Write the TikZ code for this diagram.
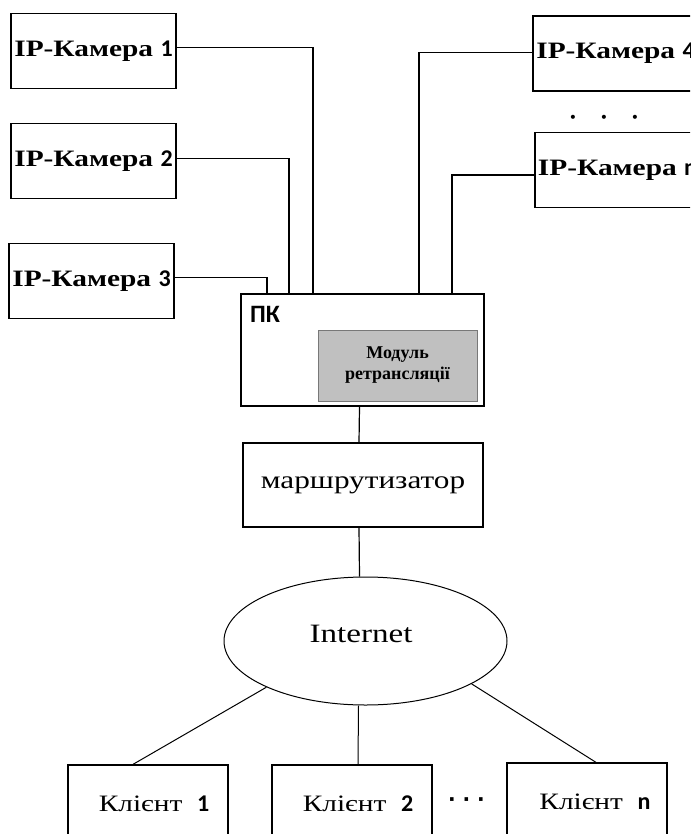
\documentclass[tikz,border=0pt]{standalone}
\usepackage{fontspec}
\usetikzlibrary{shapes.geometric}
\setmainfont{Liberation Serif}
\newfontfamily\gar[FakeStretch=1.25]{Liberation Serif}
\newfontfamily\numfont{Carlito}
\newfontfamily\symfont{DejaVu Sans}
\newcommand\nm[1]{{\numfont\bfseries\fontsize{24}{28}\selectfont #1}}
\definecolor{modfill}{RGB}{192,192,192}
\definecolor{modline}{RGB}{120,120,120}
\tikzset{
  box/.style={draw, line width=1.3pt, inner sep=0pt, align=center},
  cam/.style={box, minimum width=165pt, minimum height=75pt, font=\gar\bfseries\fontsize{23.5}{27}\selectfont},
  wire/.style={line width=1.2pt},
  client/.style={box, minimum width=160pt, minimum height=78pt, font=\gar\fontsize{23.5}{27}\selectfont},
}
\begin{document}
\begin{tikzpicture}[x=1pt,y=-1pt]
\useasboundingbox (0,0) rectangle (690,834);
\clip (0,0) rectangle (690,834);
% cameras
\node[cam] (c1) at (93.5,50.8) {IP-Камера \nm{1}};
\node[cam] (c2) at (93.5,160.8) {IP-Камера \nm{2}};
\node[cam] (c3) at (91.5,280.7) {IP-Камера \nm{3}};
\node[cam] (c4) at (615.5,53.5) {IP-Камера \nm{4}};
\node[cam] (cn) at (617.5,170) {IP-Камера \nm{n}};
\node[anchor=base, inner sep=0pt, font=\symfont\fontsize{14}{16}\selectfont] (dots1) at (604,123) {\makebox[31pt]{•}\makebox[31pt]{•}\makebox[31pt]{•}};
% PC
\node[box, minimum width=243pt, minimum height=112pt] (pc) at (362.5,350) {};
\node[anchor=west, inner sep=0pt, font=\numfont\bfseries\fontsize{25}{29}\selectfont] (pcl) at (250,314) {ПК};
\node[draw=modline, fill=modfill, line width=1pt, minimum width=159pt, minimum height=71pt, align=center, inner sep=0pt, font=\bfseries\fontsize{18}{21}\selectfont] (mod) at (397.5,365.5) {Модуль\\ретрансляції};
% router
\node[box, minimum width=240pt, minimum height=84pt, font=\gar\fontsize{25}{29}\selectfont] (rt) at (363,485) {маршрутизатор};
% internet
\node[ellipse, draw, line width=1pt, minimum width=283pt, minimum height=128pt, inner sep=0pt] (inet) at (365.5,641) {};
\node[font=\gar\fontsize{26.5}{30}\selectfont, inner sep=0pt] (inetl) at (361,634) {Internet};
% clients
\node[client] (k1) at (148,804) {\hspace*{12pt}Клієнт\ \ \nm{1}};
\node[client] (k2) at (352,804) {\hspace*{12pt}Клієнт\ \ \nm{2}};
\node[client] (kn) at (587,802) {\hspace*{16pt}Клієнт\ \ \nm{n}};
\node[anchor=base, inner sep=0pt, font=\symfont\bfseries\fontsize{20}{24}\selectfont] (dots2) at (466.5,806) {\makebox[14.5pt]{·}\makebox[14.5pt]{·}\makebox[14.5pt]{·}};
% wires cameras -> PC
\coordinate (p1) at (313,294);
\coordinate (p2) at (289,294);
\coordinate (p3) at (267,294);
\coordinate (p4) at (419,294);
\coordinate (p5) at (452,294);
\draw[wire] ([yshift=3pt]c1.east) -| (p1);
\draw[wire] ([yshift=2pt]c2.east) -| (p2);
\draw[wire] ([yshift=3pt]c3.east) -| (p3);
\draw[wire] ([yshift=1pt]c4.west) -| (p4);
\draw[wire] ([yshift=-5pt]cn.west) -| (p5);
% PC -> router -> internet
\draw[wire] ([xshift=-3pt]pc.south) -- ([xshift=-4pt]rt.north);
\draw[wire] ([xshift=-4pt]rt.south) -- ([xshift=-6pt]inet.north);
% internet -> clients
\draw[line width=1pt] (inet.205) -- ([xshift=-15pt]k1.north);
\draw[line width=1pt] ([xshift=-7pt]inet.south) -- ([xshift=6pt]k2.north);
\draw[line width=1pt] (inet.338) -- ([xshift=9pt]kn.north);
\end{tikzpicture}
\end{document}
